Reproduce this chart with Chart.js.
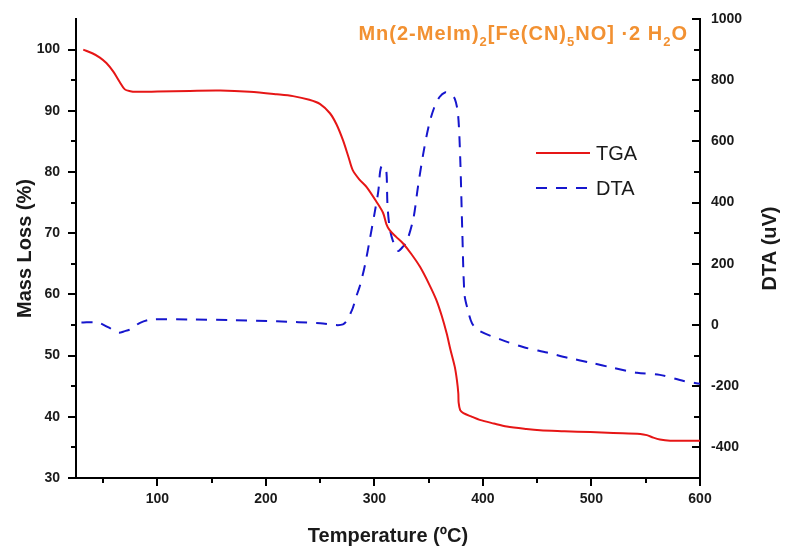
<!DOCTYPE html>
<html><head><meta charset="utf-8">
<script src="https://cdn.jsdelivr.net/npm/chart.js@4.4.1/dist/chart.umd.min.js"></script>
<style>html,body{margin:0;padding:0;background:#fff}#wrap{width:785px;height:550px}</style>
</head><body><div id="wrap"><canvas id="c" width="785" height="550"></canvas></div>
<script>
// ---- data ----
const tgaTemp = [31.7,40,47,53,59.4,65,70,75,80,100,130,158,185,210,225,240,250,259,265,271,276,280,286,293,302,308,311,314,320,326,334,342,350,357,362,366.6,370,374,376,377.3,377.6,379,382,390,397,410,422,440,452.6,475,499,520,545,551,557,563,572.5,585,600];
const tgaMass = [100,99.4,98.7,97.8,96.4,94.8,93.5,93.2,93.1,93.15,93.25,93.3,93.1,92.7,92.4,91.8,91.1,89.6,87.8,85.2,82.5,80.3,78.8,77.5,75.1,73.3,71.5,70.5,69.4,68.4,66.6,64.5,61.8,59.1,56.5,53.6,51,48.2,46,43.8,42.3,41.1,40.6,40.0,39.5,38.9,38.4,38.0,37.8,37.65,37.5,37.35,37.2,37.0,36.6,36.3,36.1,36.1,36.1];
const dtaTemp = [30,45,55,64,70,75,84,95,130,170,210,250,271,279,283,287,291.4,296,300.5,303.6,305.2,306.7,309,311,312,314,317,320.5,322,326,330,336,340,345,350,355,360,365,370,374,377,379,381,383,386,390,397,416,437,459,478,499,520,542,563,585,600];
const dtaSignal = [8,8,-8,-25,-20,-14,7,18,18,16,12,6,2,46,90,133,198,285,373,438,500,520,515,503,394,318,275,253,242,255,275,350,449,560,650,710,745,760,755,740,690,550,300,100,50,5,-20,-47,-72,-90,-107,-123,-140,-156,-163,-183,-192];
const xTickLabels = [100,200,300,400,500,600];
const massTickLabels = [30,40,50,60,70,80,90,100];
const dtaTickLabels = [-400,-200,0,200,400,600,800,1000];
const seriesNames = ['TGA','DTA'];
const titleParts = [['Mn(2-MeIm)',0],['2',1],['[Fe(CN)',0],['5',1],['NO] ·2 H',0],['2',1],['O',0]];

const FONT = '"Liberation Sans", Arial, sans-serif';
const RED = 'rgb(230,22,22)';
const BLUE = 'rgb(22,22,205)';
const INK = '#1a1a1a';

const tgaPts = tgaTemp.map((t,i)=>({x:t,y:tgaMass[i]}));
const dtaPts = dtaTemp.map((t,i)=>({x:t,y:dtaSignal[i]}));

function noPad(s){ s.paddingTop = 0; s.paddingBottom = 0; s.paddingLeft = 0; s.paddingRight = 0; }

const extras = {
  id:'extras',
  afterDraw(chart){
    const ctx = chart.ctx, ca = chart.chartArea;
    const xs = chart.scales.x, yl = chart.scales.yL, yr = chart.scales.yR;
    ctx.save();
    ctx.strokeStyle = '#000'; ctx.lineWidth = 2; ctx.setLineDash([]);
    for (let v=50; v<=600; v+=50){
      const px = Math.round(xs.getPixelForValue(v));
      const len = v%100===0 ? 8 : 5;
      ctx.beginPath(); ctx.moveTo(px, ca.bottom); ctx.lineTo(px, ca.bottom+len); ctx.stroke();
    }
    for (let v=30; v<=100; v+=5){
      const py = Math.round(yl.getPixelForValue(v));
      const len = v%10===0 ? 8 : 5;
      ctx.beginPath(); ctx.moveTo(ca.left, py); ctx.lineTo(ca.left-len, py); ctx.stroke();
    }
    for (let v=-400; v<=1000; v+=100){
      const py = Math.round(yr.getPixelForValue(v));
      const len = v%200===0 ? 8 : 6;
      ctx.beginPath(); ctx.moveTo(ca.right, py); ctx.lineTo(ca.right-len, py); ctx.stroke();
    }
    // legend
    const ds = chart.data.datasets;
    const ly = [153, 188];
    ds.forEach((d,i)=>{
      ctx.strokeStyle = d.borderColor; ctx.lineWidth = 2;
      ctx.setLineDash(d.borderDash || []);
      ctx.beginPath(); ctx.moveTo(536, ly[i]); ctx.lineTo(590, ly[i]); ctx.stroke();
      ctx.setLineDash([]);
      ctx.fillStyle = INK; ctx.font = '20px ' + FONT;
      ctx.textAlign = 'left'; ctx.textBaseline = 'middle';
      ctx.fillText(d.label, 596, ly[i]+1);
    });
    // right axis title
    ctx.save();
    ctx.translate(770, (ca.top+ca.bottom)/2);
    ctx.rotate(-Math.PI/2);
    ctx.fillStyle = INK; ctx.font = 'bold 20px ' + FONT;
    ctx.textAlign = 'center'; ctx.textBaseline = 'middle';
    ctx.fillText('DTA (uV)', 0, 0);
    ctx.restore();
    // title with subscripts
    const big = 'bold 20px ' + FONT, small = 'bold 13px ' + FONT;
    ctx.letterSpacing = '1px';
    let w = 0;
    titleParts.forEach(([s,sub])=>{ ctx.font = sub?small:big; w += ctx.measureText(s).width; });
    let x = 688 - w;
    ctx.fillStyle = 'rgb(242,145,50)'; ctx.textAlign='left'; ctx.textBaseline='alphabetic';
    titleParts.forEach(([s,sub])=>{
      ctx.font = sub?small:big;
      ctx.fillText(s, x, sub ? 46 : 40);
      x += ctx.measureText(s).width;
    });
    ctx.restore();
  }
};

new Chart(document.getElementById('c'), {
  type:'line',
  data:{datasets:[
    {label:seriesNames[0], data:tgaPts, yAxisID:'yL', borderColor:RED, borderWidth:2, pointRadius:0, tension:0.3, fill:false},
    {label:seriesNames[1], data:dtaPts, yAxisID:'yR', borderColor:BLUE, borderWidth:2, borderDash:[11,9], pointRadius:0, tension:0.3, fill:false}
  ]},
  options:{
    responsive:false, animation:false, devicePixelRatio:1,
    layout:{padding:{top:19,left:0,right:0,bottom:0}},
    plugins:{legend:{display:false}, tooltip:{enabled:false}},
    scales:{
      x:{type:'linear', min:25, max:600,
        afterBuildTicks:s=>{s.ticks = xTickLabels.map(v=>({value:v}));},
        afterFit:s=>{s.height = 72; noPad(s);},
        grid:{display:false, drawTicks:false},
        border:{display:true, color:'#000', width:2},
        ticks:{padding:13, color:INK, font:{family:FONT, size:14, weight:'bold'}, maxRotation:0, autoSkip:false, callback:v=>String(v)},
        title:{display:true, text:'Temperature (ºC)', color:INK, font:{family:FONT, size:20, weight:'bold'}, padding:{top:0,bottom:2}}
      },
      yL:{type:'linear', position:'left', min:30, max:105,
        afterBuildTicks:s=>{s.ticks = massTickLabels.map(v=>({value:v}));},
        afterFit:s=>{s.width = 76; noPad(s);},
        grid:{display:false, drawTicks:false},
        border:{display:true, color:'#000', width:2},
        ticks:{padding:16, color:INK, font:{family:FONT, size:14, weight:'bold'}, autoSkip:false, callback:v=>String(v)},
        title:{display:true, text:'Mass Loss (%)', color:INK, font:{family:FONT, size:20, weight:'bold'}, padding:{top:13,bottom:0}}
      },
      yR:{type:'linear', position:'right', min:-500, max:1000,
        afterBuildTicks:s=>{s.ticks = dtaTickLabels.map(v=>({value:v}));},
        afterFit:s=>{s.width = 85; noPad(s);},
        grid:{display:false, drawTicks:false},
        border:{display:true, color:'#000', width:2},
        ticks:{padding:11, color:INK, font:{family:FONT, size:14, weight:'bold'}, autoSkip:false, callback:v=>String(v)}
      }
    }
  },
  plugins:[extras]
});
</script></body></html>
